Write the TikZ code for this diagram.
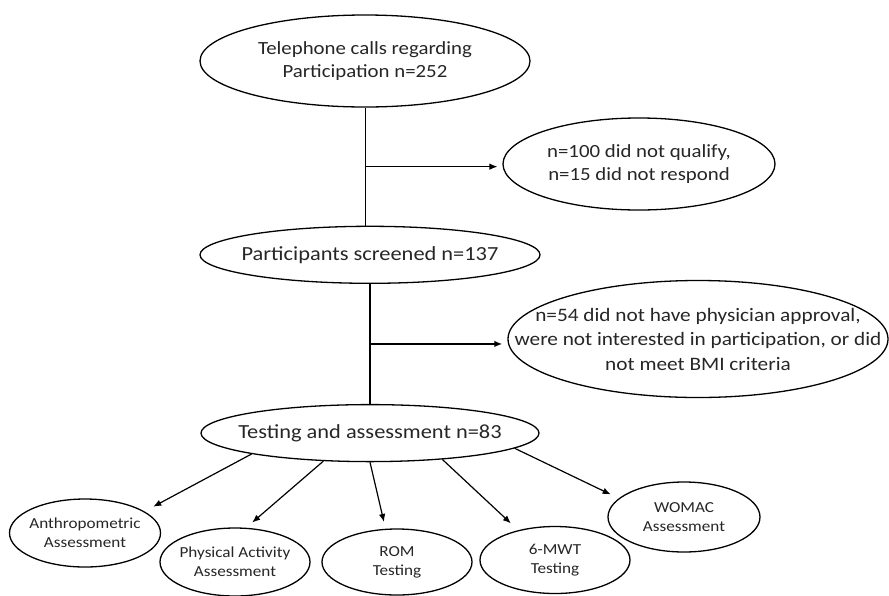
\documentclass[tikz,border=0pt]{standalone}
\usepackage{fontspec}
\setmainfont{Carlito}[FakeStretch=1.12]
\usetikzlibrary{shapes.geometric, positioning, arrows.meta, calc}
\tikzset{
  oval/.style={ellipse, draw=black, line width=1.3pt, inner sep=0pt, inner xsep=-60pt, align=center, text=black!85},
  bigfont/.style={font=\fontsize{20}{24}\selectfont},
  midfont/.style={font=\fontsize{18.6}{23.5}\selectfont},
  smallfont/.style={font=\fontsize{15.3}{19}\selectfont},
  thinline/.style={line width=0.9pt},
  thickline/.style={line width=1.6pt},
  arrow/.style={line width=1.2pt,-{Latex[length=8pt,width=6.5pt]}}
}
\begin{document}
\begin{tikzpicture}[x=1pt, y=-1pt]
    \useasboundingbox (0,0) rectangle (889,595);

    % Nodes
    \node (phone) [oval, midfont, minimum width=330pt, minimum height=92pt] at (365,61) {Telephone calls regarding\\Participation n=252};

    \node (screen) [oval, bigfont, minimum width=340pt, minimum height=57pt, below=118pt of phone, xshift=5pt] {Participants screened n=137};

    \node (test) [oval, bigfont, minimum width=338pt, minimum height=57pt, below=120pt of screen] {Testing and assessment n=83};

    \node (excl1) [oval, midfont, minimum width=272pt, minimum height=92pt] at (639,164) {n=100 did not qualify,\\n=15 did not respond};

    \node (excl2) [oval, font=\fontsize{19}{24.5}\selectfont, minimum width=380pt, minimum height=117pt] at (698,339) {n=54 did not have physician approval,\\were not interested in participation, or did\\not meet BMI criteria};

    \node (anthro) [oval, smallfont, minimum width=151pt, minimum height=68pt] at (85,533) {Anthropometric\\Assessment};
    \node (phys) [oval, smallfont, minimum width=150pt, minimum height=68pt] at (235,562) {Physical Activity\\Assessment};
    \node (rom) [oval, smallfont, minimum width=150pt, minimum height=66pt] at (397,562) {ROM\\Testing};
    \node (mwt) [oval, smallfont, minimum width=150pt, minimum height=67pt] at (555,560) {6-MWT\\Testing};
    \node (womac) [oval, smallfont, minimum width=152pt, minimum height=70pt] at (684,517) {WOMAC\\Assessment};

    % Connections
    \draw [thinline] (phone.south) -- (phone.south |- screen.north);
    \coordinate (fork1) at ($(phone.south)!0.5!(phone.south |- screen.north)$);
    \draw [arrow, thinline, shorten >=5pt] (fork1) -- (fork1 -| excl1.west);

    \draw [thickline] (screen.south) -- (test.north);
    \coordinate (fork2) at ($(screen.south)!0.5!(test.north)$);
    \draw [arrow, thickline, shorten >=5pt] (fork2) -- (fork2 -| excl2.west);

    % Assessments
    \draw [arrow, shorten >=10pt] (test.190) -- (anthro.20);
    \draw [arrow, shorten >=8pt] (test.211) -- (phys.72);
    \draw [arrow, shorten >=7pt] (test.270) -- (rom.109);
    \draw [arrow, shorten >=10pt] (test.340) -- (mwt.141);
    \draw [arrow, shorten >=9pt] (test.354) -- (womac.164);

\end{tikzpicture}
\end{document}
